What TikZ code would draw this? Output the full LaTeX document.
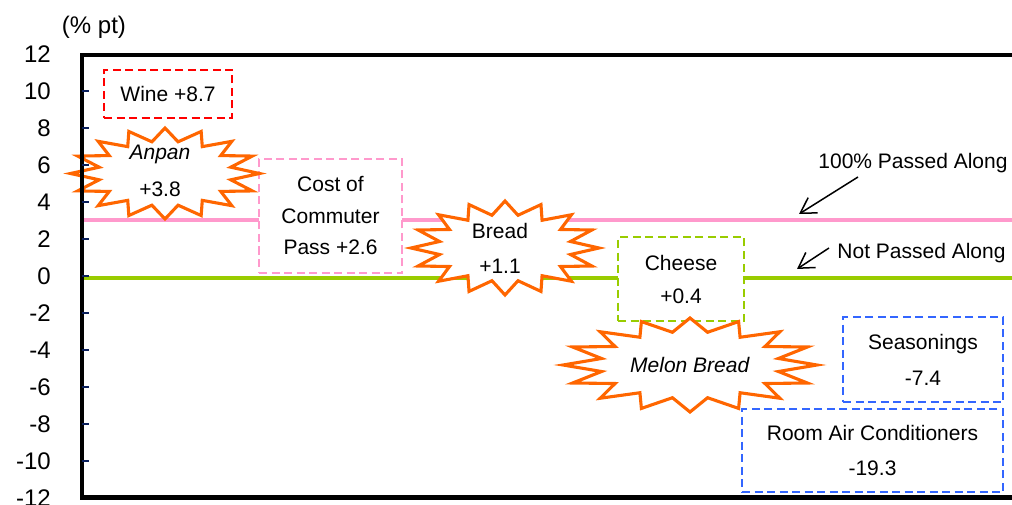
\documentclass[tikz,border=0pt]{standalone}
\usepackage{fontspec}
\setmainfont{Liberation Sans}
\usetikzlibrary{arrows.meta}
\definecolor{starorange}{HTML}{FF6600}
\definecolor{pinkline}{HTML}{FF99CC}
\definecolor{greenline}{HTML}{99CC00}
\definecolor{boxblue}{HTML}{3366FF}
\definecolor{boxred}{HTML}{FF0000}
\definecolor{axisnavy}{HTML}{0A1F5C}
\newcommand{\starsixteen}[4]{%
  \begin{scope}[shift={(#1,#2)}]
    \draw[burst] (0:#3 and #4)
      \foreach \k in {0,...,15}{ -- ({\k*22.5+11.25}:{0.71*#3} and {0.71*#4}) -- ({(\k+1)*22.5}:#3 and #4)} -- cycle;
  \end{scope}}
\begin{document}
\begin{tikzpicture}[x=1pt,y=-1pt,
  burst/.style={draw=starorange, fill=white, line width=3.1pt, line join=miter, miter limit=10},
  dbox/.style={draw=#1, fill=white, dash pattern=on 8pt off 4.5pt, line width=2pt, inner sep=0pt, align=center},
  lbl/.style={inner sep=0pt, align=center},
  ticklbl/.style={font=\fontsize{24}{28}\selectfont, anchor=east, inner sep=0pt},
  ann/.style={-{Straight Barb[length=15pt,width=18pt]}, line width=1.5pt, black},
  refline/.style={line width=4pt},
]
\useasboundingbox (0,0) rectangle (1012,505);
% reference lines
\draw[refline, pinkline] (84,220) -- (1020,220);
\draw[refline, greenline] (84,278) -- (1020,278);
% boxes
\node[dbox=boxred, minimum width=128pt, minimum height=48pt, font=\fontsize{21}{30}\selectfont] (wine) at (168,94) {Wine +8.7};
\node[dbox=pinkline, minimum width=143pt, minimum height=114pt, font=\fontsize{21}{31.5}\selectfont] (cost) at (330.5,216) {Cost of\\Commuter\\Pass +2.6};
\node[dbox=greenline, minimum width=126pt, minimum height=83pt, font=\fontsize{21}{33}\selectfont] (cheese) at (681,279) {Cheese\\+0.4};
\node[dbox=boxblue, minimum width=160pt, minimum height=85pt, font=\fontsize{21}{36}\selectfont] (season) at (923,359.5) {Seasonings\\-7.4};
\node[dbox=boxblue, minimum width=261pt, minimum height=83pt, font=\fontsize{21}{35}\selectfont] (aircon) at (872.5,450.5) {Room Air Conditioners\\-19.3};
% starbursts
\starsixteen{165}{173.5}{94.5}{45.5}
\starsixteen{505}{248}{94}{47}
\starsixteen{690}{365}{127}{47}
% axis frame and ticks
\draw[line width=4.5pt, line cap=rect] (1030,55) -- (82,55) -- (82,497.5) -- (1030,497.5);
\foreach \v in {10,8,...,-10}{
  \draw[axisnavy, line width=1.6pt] (82,{276-18.5*\v}) -- (89,{276-18.5*\v});
}
\foreach \v in {12,10,...,-12}{
  \node[ticklbl] (t\v) at (51,{276-18.5*\v}) {\v};
}
\node[font=\fontsize{24}{28}\selectfont, inner sep=0pt] (unit) at (94,27) {(\% pt)};
% star texts
\node[lbl, font=\fontsize{21}{37}\selectfont] (anpan) at (160,171) {\textit{Anpan}\\+3.8};
\node[lbl, font=\fontsize{21}{35}\selectfont] (bread) at (500,248) {Bread\\+1.1};
\node[lbl, font=\fontsize{21}{30}\selectfont] (melon) at (690,365) {\textit{Melon Bread}};
% annotations
\node[lbl, font=\fontsize{21}{30}\selectfont] (full) at (913,163) {100\% Passed Along};
\node[lbl, font=\fontsize{21}{30}\selectfont] (none) at (921.5,253) {Not Passed Along};
\coordinate (fullS) at (858,177);
\coordinate (fullE) at (799,214);
\coordinate (noneS) at (829,248);
\coordinate (noneE) at (797,269);
\draw[ann] (fullS) -- (fullE);
\draw[ann] (noneS) -- (noneE);
\end{tikzpicture}
\end{document}
